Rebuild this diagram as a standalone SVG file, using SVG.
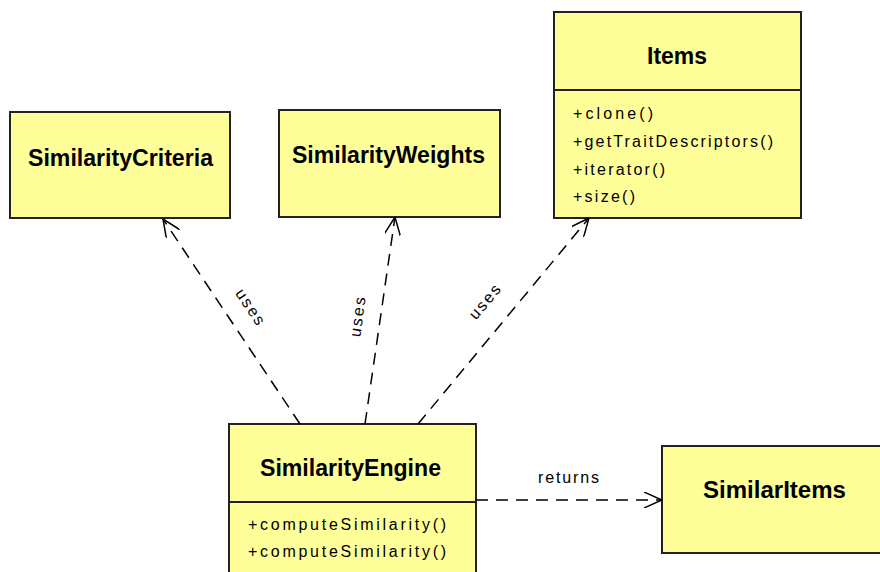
<svg xmlns="http://www.w3.org/2000/svg" width="880" height="572" viewBox="0 0 880 572">
  <style>
    .box { fill: #ffff99; stroke: #222; stroke-width: 2; }
    .div { stroke: #222; stroke-width: 2; }
    .title { font-family: "Liberation Sans", Arial, sans-serif; font-weight: bold; font-size: 23px; fill: #000; text-anchor: middle; }
    .op { font-family: "Liberation Sans", Arial, sans-serif; font-size: 16px; fill: #000; }
    .lbl { font-family: "Liberation Sans", Arial, sans-serif; font-size: 16px; fill: #000; text-anchor: middle; }
    .dep { fill: none; stroke: #000; stroke-width: 1.5; stroke-dasharray: 12 8; }
  </style>
  <defs>
    <marker id="open" viewBox="0 0 18 16" refX="18" refY="8" markerWidth="18" markerHeight="16" markerUnits="userSpaceOnUse" orient="auto">
      <path d="M0,0 L18,8 L0,16" fill="none" stroke="#000" stroke-width="1.5"/>
    </marker>
  </defs>
  <rect width="880" height="572" fill="#fff"/>

  <g id="SimilarityCriteria">
    <rect class="box" x="10" y="112" width="220" height="106"/>
    <text class="title" x="120.5" y="166" textLength="185" lengthAdjust="spacingAndGlyphs">SimilarityCriteria</text>
  </g>

  <g id="SimilarityWeights">
    <rect class="box" x="279" y="110" width="221" height="107"/>
    <text class="title" x="388.5" y="163" textLength="193" lengthAdjust="spacingAndGlyphs">SimilarityWeights</text>
  </g>

  <g id="Items">
    <rect class="box" x="554" y="12" width="247" height="206"/>
    <line class="div" x1="554" y1="90" x2="801" y2="90"/>
    <text class="title" x="677" y="64" textLength="60" lengthAdjust="spacingAndGlyphs">Items</text>
    <text class="op" x="573" y="119" textLength="80">+clone()</text>
    <text class="op" x="573" y="147" textLength="200">+getTraitDescriptors()</text>
    <text class="op" x="573" y="174.5" textLength="92">+iterator()</text>
    <text class="op" x="573" y="202" textLength="62">+size()</text>
  </g>

  <g id="SimilarityEngine">
    <rect class="box" x="229" y="424" width="247" height="160"/>
    <line class="div" x1="229" y1="502" x2="476" y2="502"/>
    <text class="title" x="350.5" y="476" textLength="181" lengthAdjust="spacingAndGlyphs">SimilarityEngine</text>
    <text class="op" x="248" y="530" textLength="198">+computeSimilarity()</text>
    <text class="op" x="248" y="557" textLength="198">+computeSimilarity()</text>
  </g>

  <g id="SimilarItems">
    <rect class="box" x="662" y="446" width="230" height="107"/>
    <text class="title" x="774.5" y="498" textLength="143" lengthAdjust="spacingAndGlyphs">SimilarItems</text>
  </g>

  <g id="connectors">
    <path class="dep" d="M300,424 L163,219" marker-end="url(#open)"/>
    <path class="dep" d="M365,424 L395,217" marker-end="url(#open)"/>
    <path class="dep" d="M418,424 L589,218" marker-end="url(#open)"/>
    <path class="dep" d="M476,500 L662,500" marker-end="url(#open)"/>
    <text class="lbl" transform="translate(250,307) rotate(56)" y="5" textLength="40">uses</text>
    <text class="lbl" transform="translate(358,317) rotate(-82)" y="5" textLength="40">uses</text>
    <text class="lbl" transform="translate(485,302) rotate(-50)" y="5" textLength="40">uses</text>
    <text class="lbl" x="568.5" y="483" textLength="61">returns</text>
  </g>
</svg>
